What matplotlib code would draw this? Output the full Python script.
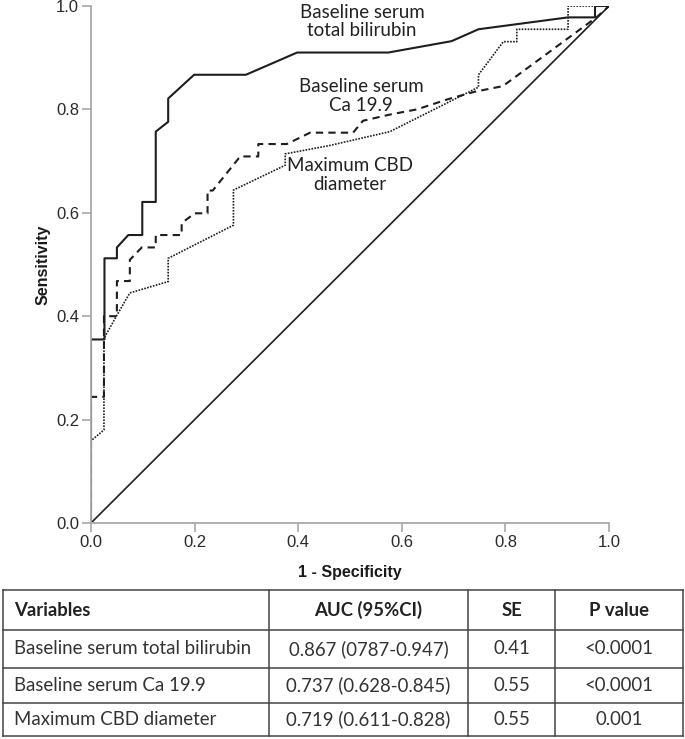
import matplotlib
matplotlib.use("Agg")
import matplotlib.pyplot as plt

# ROC curves (1 - specificity, sensitivity)
bili_fpr = [0, 0, 0.026, 0.026, 0.05, 0.05, 0.072, 0.099, 0.099, 0.125, 0.125, 0.149, 0.149,
            0.199, 0.299, 0.398, 0.574, 0.696, 0.748, 0.921, 0.973, 0.973, 1.0]
bili_tpr = [0, 0.355, 0.355, 0.512, 0.512, 0.533, 0.557, 0.557, 0.621, 0.621, 0.757, 0.776, 0.821,
            0.867, 0.867, 0.910, 0.910, 0.932, 0.955, 0.978, 0.978, 1.0, 1.0]

ca_fpr = [0, 0, 0.025, 0.025, 0.05, 0.05, 0.075, 0.075, 0.098, 0.125, 0.125, 0.175, 0.175, 0.2,
          0.225, 0.225, 0.235, 0.288, 0.323, 0.323, 0.378, 0.423, 0.506, 0.525, 0.577, 0.629,
          0.69, 0.74, 0.795, 0.977, 1.0]
ca_tpr = [0, 0.244, 0.244, 0.40, 0.40, 0.468, 0.468, 0.509, 0.533, 0.533, 0.557, 0.557, 0.58, 0.599,
          0.599, 0.643, 0.643, 0.709, 0.709, 0.733, 0.733, 0.755, 0.755, 0.778, 0.79, 0.80,
          0.82, 0.834, 0.845, 0.979, 1.0]

cbd_fpr = [0, 0, 0.025, 0.025, 0.05, 0.075, 0.149, 0.149, 0.275, 0.275, 0.375, 0.375, 0.46,
           0.577, 0.748, 0.748, 0.796, 0.822, 0.822, 0.921, 0.921, 1.0]
cbd_tpr = [0, 0.159, 0.18, 0.357, 0.402, 0.445, 0.467, 0.512, 0.576, 0.644, 0.692, 0.714, 0.73,
           0.757, 0.843, 0.867, 0.931, 0.931, 0.955, 0.955, 1.0, 1.0]

curve_labels = ["Baseline serum\ntotal bilirubin", "Baseline serum\nCa 19.9", "Maximum CBD\ndiameter"]

# summary table
col_names = ["Variables", "AUC (95%CI)", "SE", "P value"]
variables = ["Baseline serum total bilirubin", "Baseline serum Ca 19.9", "Maximum CBD diameter"]
auc_ci = ["0.867 (0787-0.947)", "0.737 (0.628-0.845)", "0.719 (0.611-0.828)"]
se = ["0.41", "0.55", "0.55"]
p_values = ["<0.0001", "<0.0001", "0.001"]

W, H = 685, 739
ink = "#1e1e1e"
axis_grey = "#a8a8a8"
label_font = "Lato"

fig = plt.figure(figsize=(W / 100, H / 100), dpi=100)
ax = fig.add_axes([91 / W, 216 / H, 518 / W, 517 / H])

ax.plot([0, 1], [0, 1], color=ink, lw=1.2)
ax.plot(bili_fpr, bili_tpr, color=ink, lw=1.5)
ax.plot(ca_fpr, ca_tpr, color=ink, lw=1.5, linestyle=(0, (3.5, 2.5)))
ax.plot(cbd_fpr, cbd_tpr, color=ink, lw=1.2, linestyle=(0, (1, 0.8)))

ax.set_xlim(0, 1)
ax.set_ylim(0, 1)
ax.set_xticks([0, 0.2, 0.4, 0.6, 0.8, 1.0])
ax.set_yticks([0, 0.2, 0.4, 0.6, 0.8, 1.0])
ax.set_xticklabels(["0.0", "0.2", "0.4", "0.6", "0.8", "1.0"])
ax.set_yticklabels(["0.0", "0.2", "0.4", "0.6", "0.8", "1.0"])
for s in ["top", "right"]:
    ax.spines[s].set_visible(False)
for s in ["left", "bottom"]:
    ax.spines[s].set_color(axis_grey)
    ax.spines[s].set_linewidth(1.3)
ax.tick_params(direction="out", length=6.5, width=1.2, color=axis_grey, pad=2,
               labelsize=12, labelcolor="#2a2a2a")
for lab in ax.get_xticklabels() + ax.get_yticklabels():
    lab.set_family("Liberation Sans")
ax.set_xlabel("1 - Specificity", fontsize=11.5, fontweight="bold", family="Liberation Sans",
              color="#1a1a1a", labelpad=11)
ax.set_ylabel("Sensitivity", fontsize=11.5, fontweight="bold", family="Liberation Sans",
              color="#1a1a1a", labelpad=4)

label_pos = [(0.523, 0.970), (0.521, 0.826), (0.50, 0.673)]
for txt, (x, y) in zip(curve_labels, label_pos):
    ax.text(x, y, txt, ha="center", va="center", fontsize=13.5, family=label_font,
            color="#222222", linespacing=1.1, clip_on=False)

# table drawn in pixel coordinates
tab = fig.add_axes([0, 0, 1, 1], zorder=-1)
tab.set_xlim(0, W)
tab.set_ylim(H, 0)
tab.axis("off")
row_lines = [590, 630, 668, 703, 736]
col_lines = [3, 269, 468, 555, 683]
for y in row_lines:
    tab.plot([col_lines[0], col_lines[-1]], [y, y], color="#444444", lw=1.1)
for x in col_lines:
    tab.plot([x, x], [row_lines[0], row_lines[-1]], color="#444444", lw=1.1)

header_y = (row_lines[0] + row_lines[1]) / 2
tab.text(14, header_y, col_names[0], ha="left", va="center", fontsize=13.3, fontweight="bold",
         family=label_font, color="#222222")
for j in range(1, 4):
    cx = (col_lines[j] + col_lines[j + 1]) / 2
    tab.text(cx, header_y, col_names[j], ha="center", va="center", fontsize=13.3, fontweight="bold",
             family=label_font, color="#222222")

for i in range(3):
    cy = (row_lines[i + 1] + row_lines[i + 2]) / 2
    tab.text(14, cy, variables[i], ha="left", va="center", fontsize=13.4, family=label_font,
             color="#333333")
    for j, val in zip(range(1, 4), [auc_ci[i], se[i], p_values[i]]):
        cx = (col_lines[j] + col_lines[j + 1]) / 2
        tab.text(cx, cy, val, ha="center", va="center", fontsize=13.4, family=label_font,
                 color="#333333")

fig.savefig("out.png", dpi=100)
